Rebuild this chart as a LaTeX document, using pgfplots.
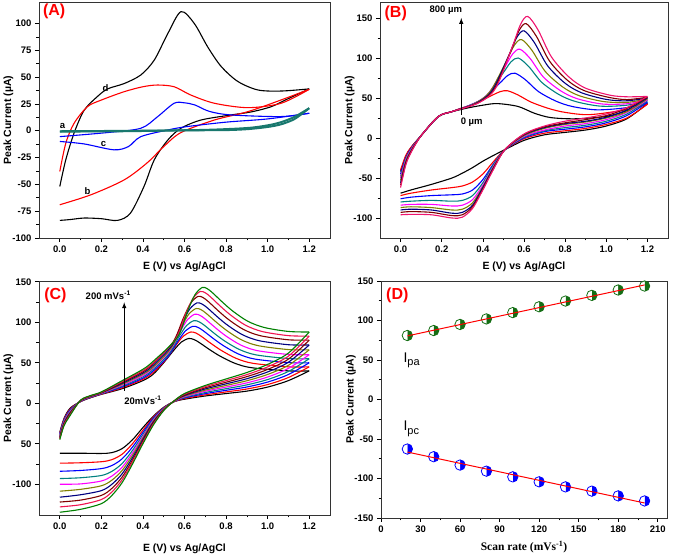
\documentclass[border=0pt]{standalone}
\usepackage{pgfplots}
\pgfplotsset{compat=1.18}
\usepackage{fontspec}
\setmainfont{Liberation Sans}
\newfontfamily\serifbf{Liberation Serif}
\usetikzlibrary{plotmarks}
\definecolor{cteal}{RGB}{0,128,128}
\definecolor{cteala}{RGB}{25,120,110}
\definecolor{cmag}{RGB}{255,0,255}
\definecolor{colive}{RGB}{128,128,0}
\definecolor{cnavy}{RGB}{0,0,128}
\definecolor{cmaroon}{RGB}{128,0,0}
\definecolor{cpink}{RGB}{240,20,110}
\definecolor{cpinkred}{RGB}{240,20,80}
\definecolor{cgreen}{RGB}{0,128,0}
\definecolor{cdgreen}{RGB}{20,110,20}
\newcommand\cv[3]{\addplot[#1] coordinates {#2};\addplot[#1] coordinates {#3};}
\pgfplotsset{
  panel/.style={scale only axis, clip mode=individual, tick align=outside, tick pos=left,
    axis line style={line width=0.9pt, black!80},
    major tick length=4pt, minor tick length=2.5pt,
    every tick/.style={black, line width=0.7pt},
    ticklabel style={font=\bfseries\fontsize{9.5}{10}\selectfont},
    /pgf/number format/assume math mode=true,
    label style={font=\bfseries\fontsize{10.5}{12}\selectfont},
    ylabel style={at={(axis description cs:-0.105,0.5)}, anchor=center},
    every axis plot/.append style={line width=1.1pt, smooth, mark=none},
  },
  cvaxis/.style={panel, xmin=-0.1, xmax=1.3, xtick={0,0.2,0.4,0.6,0.8,1.0,1.2},
    minor x tick num=1, minor y tick num=1,
    x tick label style={/pgf/number format/fixed, /pgf/number format/fixed zerofill, /pgf/number format/precision=1},
    xlabel={E (V) vs Ag/AgCl}, ylabel={Peak Current (\textmu A)}},
}
\tikzset{
  plab/.style={anchor=north west, text=red, font=\bfseries\fontsize{16}{18}\selectfont, inner sep=1pt},
  ann/.style={font=\bfseries\fontsize{9.5}{11}\selectfont, inner sep=1pt},
}
\begin{document}
\begin{tikzpicture}
\useasboundingbox (0,0) rectangle (675pt,557pt);
% ---------------- (A)
\begin{axis}[cvaxis, at={(39pt,319pt)}, anchor=south west, width=291pt, height=236pt,
  ymin=-100, ymax=120, ytick={-100,-75,-50,-25,0,25,50,75,100},
  xlabel style={at={(axis description cs:0.5,-0.12)}, anchor=center}]
\cv{black}{(0,-52) (0.029,-27) (0.069,-2) (0.117,19) (0.18,31.7) (0.23,39) (0.31,44) (0.39,52) (0.455,66) (0.52,90.7) (0.583,111) (0.647,100) (0.712,78) (0.776,60) (0.856,46) (0.953,38) (1.065,37) (1.2,39)}
{(1.2,39) (1.1,30) (1.017,22.4) (0.92,17.5) (0.824,14.7) (0.68,10) (0.583,2.3) (0.52,-8.6) (0.455,-27) (0.405,-52) (0.34,-76.8) (0.278,-83.6) (0.2,-82) (0.117,-81.4) (0.05,-82.8) (0,-83.6)}
\cv{red}{(0,-38) (0.029,-11.6) (0.069,7) (0.133,22.4) (0.2,28.6) (0.31,36.4) (0.4,41) (0.47,42.6) (0.55,41) (0.63,33.3) (0.744,25.6) (0.905,21.5) (1.065,25.6) (1.2,38.6)}
{(1.2,38.6) (1.065,28.7) (0.905,17.8) (0.744,10) (0.583,-1.7) (0.5,-14.8) (0.42,-30) (0.31,-45.8) (0.15,-59.7) (0,-69)}
\cv{blue}{(0,-5.5) (0.23,-1.7) (0.39,2.3) (0.47,13) (0.55,25.6) (0.6,26) (0.65,24) (0.72,18) (0.824,14.7) (1.065,13.2) (1.2,16.3)}
{(1.2,16.3) (1.0,11) (0.8,8) (0.61,3.8) (0.52,0.7) (0.39,-5.5) (0.33,-14.8) (0.26,-17.8) (0.117,-12.3) (0,-10)}
\cv{cteala, line width=2pt}{(0,-0.8) (0.3,-0.5) (0.583,0.3) (0.8,0.6) (0.905,1.5) (1.0,3.5) (1.065,6) (1.13,11) (1.2,21)}
{(1.2,21) (1.13,13) (1.065,8) (1.0,5) (0.9,2.5) (0.7,0.8) (0.4,0) (0,-0.5)}
\node[ann] at (axis cs:0.013,4.5) {a};
\node[ann] at (axis cs:0.133,-56.7) {b};
\node[ann] at (axis cs:0.21,-12.3) {c};
\node[ann] at (axis cs:0.22,39.5) {d};
\node[plab] at (rel axis cs:0.01,0.995) {(A)};
\end{axis}
% ---------------- (B)
\begin{axis}[cvaxis, at={(380pt,319pt)}, anchor=south west, width=288pt, height=236pt,
  ymin=-125, ymax=170, ytick={-100,-50,0,50,100,150},
  xlabel style={at={(axis description cs:0.5,-0.12)}, anchor=center}]
\cv{black}{(0,-42) (0.025,-23) (0.05,-12) (0.1,3) (0.185,27) (0.3,36) (0.4,41) (0.47,43) (0.57,39.5) (0.65,31) (0.73,25.5) (0.85,24) (1.0,27) (1.1,34) (1.2,43)}
{(1.2,43) (1.1,24) (1.0,15) (0.9,10) (0.8,7) (0.7,4) (0.6,-3) (0.507,-14.6) (0.45,-22) (0.4,-29) (0.35,-37) (0.3,-44) (0.25,-50) (0.15,-58) (0.05,-65) (0,-69)}
\cv{red}{(0,-40) (0.025,-22) (0.05,-12) (0.1,3) (0.185,27) (0.25,33) (0.285,36.5) (0.365,43.4) (0.445,53.4) (0.485,58) (0.52,59) (0.57,53.9) (0.635,44.8) (0.72,36.9) (0.8,32) (0.92,29.2) (1.1,35.5) (1.2,42.2)}
{(1.2,42.2) (1.1,25) (1.0,17) (0.9,12) (0.8,9) (0.7,6) (0.6,-1) (0.507,-14.6) (0.45,-30) (0.4,-45) (0.35,-55) (0.3,-60) (0.25,-62) (0.15,-65) (0.05,-69) (0,-72)}
\cv{blue}{(0,-45) (0.025,-25) (0.05,-13.5) (0.1,3) (0.185,27) (0.25,33) (0.321,39.4) (0.401,49.2) (0.481,68.2) (0.521,78.2) (0.556,81) (0.606,73) (0.671,57.9) (0.756,46) (0.836,39.3) (0.956,35.2) (1.1,38) (1.2,44.6)}
{(1.2,44.6) (1.1,28) (1.0,19) (0.9,14) (0.8,11) (0.7,8) (0.6,0) (0.507,-14.6) (0.45,-33) (0.4,-52) (0.35,-65) (0.3,-70) (0.25,-71) (0.15,-72) (0.05,-74) (0,-76)}
\cv{cteal}{(0,-48) (0.025,-26.4) (0.05,-14.4) (0.1,3) (0.185,27) (0.25,33) (0.337,40.7) (0.417,52.8) (0.497,80.7) (0.537,95.2) (0.572,100) (0.622,89.6) (0.687,69.4) (0.772,54) (0.852,45.5) (0.972,39.8) (1.1,41) (1.2,46.6)}
{(1.2,46.6) (1.1,30) (1.0,21) (0.9,16) (0.8,13) (0.7,9) (0.6,1) (0.507,-14.6) (0.45,-34) (0.4,-56) (0.35,-72) (0.3,-78) (0.25,-79) (0.15,-78) (0.05,-79) (0,-80)}
\cv{cmag}{(0,-50) (0.025,-27.5) (0.05,-15) (0.1,3) (0.185,27) (0.25,33) (0.345,41.5) (0.425,54.9) (0.505,87.8) (0.545,105.1) (0.58,111) (0.63,99.3) (0.695,76) (0.78,58.7) (0.86,49) (0.98,42.5) (1.1,42.8) (1.2,47.7)}
{(1.2,47.7) (1.1,32) (1.0,23) (0.9,18) (0.8,15) (0.7,10) (0.6,2) (0.507,-14.6) (0.45,-36) (0.4,-59) (0.35,-77) (0.3,-84) (0.25,-85) (0.15,-83) (0.05,-83) (0,-84)}
\cv{colive}{(0,-53) (0.025,-29) (0.05,-16) (0.1,3) (0.185,27) (0.25,33) (0.353,42.2) (0.433,57.2) (0.513,95.5) (0.553,115.9) (0.588,123) (0.638,109.8) (0.703,83.3) (0.788,63.8) (0.868,52.9) (0.988,45.5) (1.1,44.5) (1.2,48.9)}
{(1.2,48.9) (1.1,33) (1.0,25) (0.9,20) (0.8,17) (0.7,12) (0.6,3) (0.507,-14.6) (0.45,-37) (0.4,-61) (0.35,-81) (0.3,-89) (0.25,-90) (0.15,-87) (0.05,-86) (0,-87)}
\cv{cnavy}{(0,-56) (0.025,-31) (0.05,-17) (0.1,3) (0.185,27) (0.25,33) (0.365,43) (0.445,59.3) (0.525,102.5) (0.565,125.7) (0.6,134) (0.65,119.4) (0.715,90.2) (0.8,68.4) (0.88,56.5) (1.0,48.2) (1.1,46.5) (1.2,50.1)}
{(1.2,50.1) (1.1,35) (1.0,26) (0.9,21) (0.8,18) (0.7,13) (0.6,4) (0.507,-14.6) (0.45,-38) (0.4,-62) (0.35,-84) (0.3,-93) (0.25,-94) (0.15,-90) (0.05,-89) (0,-90)}
\cv{cmaroon}{(0,-59) (0.025,-32.5) (0.05,-17.7) (0.1,3) (0.185,27) (0.25,33) (0.375,43.7) (0.455,61) (0.535,108.1) (0.575,133.8) (0.61,143) (0.66,127.2) (0.725,95.8) (0.81,72.4) (0.89,59.5) (1.01,50.9) (1.1,48) (1.2,51)}
{(1.2,51) (1.1,37) (1.0,28) (0.9,23) (0.8,19) (0.7,14) (0.6,4.5) (0.507,-14.6) (0.45,-39) (0.4,-64) (0.35,-86) (0.3,-96) (0.25,-97) (0.15,-93) (0.05,-92) (0,-93)}
\cv{cpink}{(0,-62) (0.025,-34) (0.05,-18.6) (0.1,3) (0.185,27) (0.25,33) (0.383,44.3) (0.463,62.7) (0.543,113.9) (0.583,141.9) (0.618,152) (0.668,135.2) (0.733,101.5) (0.818,76.4) (0.898,62.4) (1.018,53.5) (1.1,51.5) (1.2,52)}
{(1.2,52) (1.1,38) (1.0,30) (0.9,25) (0.8,21) (0.7,15) (0.6,5) (0.507,-14.6) (0.45,-40) (0.4,-65) (0.35,-88) (0.3,-99) (0.25,-100) (0.15,-96) (0.05,-95.5) (0,-96)}
\draw[-latex, line width=1pt] (axis cs:0.295,29) -- (axis cs:0.295,150);
\node[ann] at (axis cs:0.22,159.5) {800 \textmu m};
\node[ann] at (axis cs:0.346,19.5) {0 \textmu m};
\node[plab] at (rel axis cs:0.012,0.99) {(B)};
\end{axis}
% ---------------- (C)
\begin{axis}[cvaxis, at={(39pt,42pt)}, anchor=south west, width=291pt, height=234pt,
  ymin=-138, ymax=151, ytick={-100,-50,0,50,100,150}, yticklabels={-100,50,0,50,100,150},
  xlabel style={at={(axis description cs:0.5,-0.145)}, anchor=center}]
\cv{black}{(0,-36) (0.02,-19) (0.05,-6) (0.1,2) (0.15,7) (0.2,11) (0.3,18) (0.4,28) (0.45,36) (0.5,50.1) (0.55,65.9) (0.585,75.6) (0.62,80) (0.645,78.8) (0.67,75.2) (0.72,66.4) (0.77,58.4) (0.84,49.6) (0.92,44) (1.1,40) (1.2,40)}
{(1.2,40) (1.1,28) (1.0,20) (0.9,15) (0.8,12) (0.7,9) (0.6,5) (0.55,2) (0.5,-5) (0.45,-16) (0.4,-30) (0.35,-45) (0.3,-56) (0.25,-61) (0.2,-62) (0.1,-61.7) (0,-61.7)}
\cv{red}{(0,-37) (0.02,-20) (0.05,-7) (0.1,2.2) (0.15,7.3) (0.2,11.3) (0.3,19.1) (0.4,29.6) (0.45,38) (0.51,54) (0.56,72) (0.595,83) (0.63,88) (0.655,86.7) (0.68,82.8) (0.73,73.4) (0.78,64.8) (0.85,55.3) (0.93,49.3) (1.1,45) (1.2,45)}
{(1.2,45) (1.1,31.8) (1.0,23.1) (0.9,17.6) (0.8,14) (0.7,10.4) (0.6,5.8) (0.55,2) (0.5,-5.4) (0.45,-17.2) (0.4,-33.3) (0.35,-49.9) (0.3,-62.9) (0.25,-69.7) (0.2,-72.2) (0.1,-73.5) (0,-74)}
\cv{blue}{(0,-38) (0.02,-21) (0.05,-8) (0.1,2.4) (0.15,7.6) (0.2,11.7) (0.3,20.2) (0.4,31.1) (0.45,40) (0.52,57.6) (0.57,77.4) (0.605,89.5) (0.64,95) (0.665,93.7) (0.69,89.6) (0.74,79.7) (0.79,70.7) (0.86,60.8) (0.94,54.5) (1.1,50.2) (1.2,50)}
{(1.2,50) (1.1,35.5) (1.0,26.2) (0.9,20.1) (0.8,16) (0.7,11.9) (0.6,6.6) (0.55,2.2) (0.5,-5.9) (0.45,-18.4) (0.4,-36) (0.35,-54) (0.3,-68.6) (0.25,-77) (0.2,-80.7) (0.1,-83) (0,-84)}
\cv{cteal}{(0,-39) (0.02,-22) (0.05,-9) (0.1,2.6) (0.15,7.9) (0.2,12) (0.3,21.3) (0.4,32.7) (0.45,42) (0.525,61.2) (0.575,82.8) (0.61,96) (0.645,102) (0.67,100.6) (0.695,96.4) (0.745,86) (0.795,76.6) (0.865,66.3) (0.945,59.7) (1.1,55.2) (1.2,55)}
{(1.2,55) (1.1,39.3) (1.0,29.3) (0.9,22.7) (0.8,18) (0.7,13.3) (0.6,7.3) (0.55,2.3) (0.5,-6.3) (0.45,-19.7) (0.4,-38.8) (0.35,-58.1) (0.3,-74.4) (0.25,-84.2) (0.2,-89.2) (0.1,-92) (0,-93)}
\cv{cmag}{(0,-40) (0.02,-23) (0.05,-10) (0.1,2.8) (0.15,8.2) (0.2,12.3) (0.3,22.4) (0.4,34.2) (0.45,44) (0.53,65.1) (0.58,88.9) (0.615,103.4) (0.65,110) (0.675,108.5) (0.7,104) (0.75,93) (0.8,83) (0.87,72) (0.95,65) (1.1,60.3) (1.2,60)}
{(1.2,60) (1.1,43.1) (1.0,32.4) (0.9,25.2) (0.8,20) (0.7,14.8) (0.6,8.1) (0.55,2.4) (0.5,-6.8) (0.45,-20.9) (0.4,-41) (0.35,-61.4) (0.3,-79) (0.25,-90) (0.2,-96) (0.1,-99.6) (0,-100)}
\cv{colive}{(0,-41) (0.02,-24) (0.05,-11) (0.1,3) (0.15,8.5) (0.2,12.7) (0.3,23.5) (0.4,35.8) (0.45,45) (0.535,68) (0.585,94) (0.62,109.8) (0.655,117) (0.68,115.5) (0.705,110.9) (0.755,99.7) (0.805,89.5) (0.875,78.2) (0.955,71.1) (1.1,66.3) (1.2,66)}
{(1.2,66) (1.1,46.9) (1.0,35.6) (0.9,27.8) (0.8,22) (0.7,16.2) (0.6,8.9) (0.55,2.5) (0.5,-7.2) (0.45,-22.1) (0.4,-42.9) (0.35,-64.3) (0.3,-83) (0.25,-95.1) (0.2,-101.9) (0.1,-106.3) (0,-108.6)}
\cv{cnavy}{(0,-42) (0.02,-25) (0.05,-12) (0.1,3.2) (0.15,8.8) (0.2,13) (0.3,24.6) (0.4,37.3) (0.45,47) (0.54,71.6) (0.59,99.4) (0.625,116.3) (0.66,124) (0.685,122.4) (0.71,117.8) (0.76,106.3) (0.81,95.9) (0.88,84.5) (0.96,77.2) (1.1,72.3) (1.2,72)}
{(1.2,72) (1.1,50.7) (1.0,38.7) (0.9,30.3) (0.8,24) (0.7,17.7) (0.6,9.7) (0.55,2.7) (0.5,-7.7) (0.45,-23.3) (0.4,-44.8) (0.35,-67.2) (0.3,-87.1) (0.25,-100.2) (0.2,-107.9) (0.1,-113) (0,-116)}
\cv{cmaroon}{(0,-43) (0.02,-26) (0.05,-13) (0.1,3.4) (0.15,9.1) (0.2,13.3) (0.3,25.7) (0.4,38.9) (0.45,49) (0.545,75.6) (0.595,105.4) (0.63,123.7) (0.665,132) (0.69,130.4) (0.715,125.5) (0.765,113.6) (0.815,102.8) (0.885,91) (0.965,83.4) (1.1,78.4) (1.2,78)}
{(1.2,78) (1.1,54.5) (1.0,41.8) (0.9,32.9) (0.8,26) (0.7,19.1) (0.6,10.4) (0.55,2.8) (0.5,-8.1) (0.45,-24.6) (0.4,-46.7) (0.35,-70.1) (0.3,-91.1) (0.25,-105.3) (0.2,-113.8) (0.1,-119.6) (0,-122)}
\cv{cpinkred}{(0,-44) (0.02,-27) (0.05,-14) (0.1,3.6) (0.15,9.4) (0.2,13.6) (0.3,26.8) (0.4,40.4) (0.45,50) (0.555,78.2) (0.605,109.8) (0.64,129.2) (0.675,138) (0.7,136.4) (0.725,131.4) (0.775,119.3) (0.825,108.3) (0.895,96.2) (0.975,88.5) (1.1,83.5) (1.2,83)}
{(1.2,83) (1.1,58.2) (1.0,44.9) (0.9,35.4) (0.8,28) (0.7,20.6) (0.6,11.2) (0.55,2.9) (0.5,-8.6) (0.45,-25.8) (0.4,-48.4) (0.35,-72.5) (0.3,-94.6) (0.25,-109.7) (0.2,-118.9) (0.1,-125.3) (0,-128)}
\cv{cgreen}{(0,-45) (0.02,-28) (0.05,-15) (0.1,3.8) (0.15,9.7) (0.2,14) (0.3,27.9) (0.4,42) (0.45,52) (0.565,81.1) (0.615,113.9) (0.65,133.9) (0.685,143) (0.71,141.4) (0.735,136.4) (0.785,124.3) (0.835,113.3) (0.905,101.2) (0.985,93.5) (1.1,88.7) (1.2,88)}
{(1.2,88) (1.1,62) (1.0,48) (0.9,38) (0.8,30) (0.7,22) (0.6,12) (0.55,3) (0.5,-9) (0.45,-27) (0.4,-50) (0.35,-75) (0.3,-98) (0.25,-114) (0.2,-124) (0.1,-131) (0,-134.6)}
\draw[-latex, line width=1pt] (axis cs:0.31,15.7) -- (axis cs:0.31,124.7);
\node[ann] at (axis cs:0.233,133) {200 mVs\textsuperscript{-1}};
\node[ann] at (axis cs:0.40,3.3) {20mVs\textsuperscript{-1}};
\node[plab] at (rel axis cs:0.014,0.975) {(C)};
\end{axis}
% ---------------- (D)
\begin{axis}[panel, at={(381pt,39pt)}, anchor=south west, width=286pt, height=237pt,
  xmin=0, xmax=217, ymin=-150, ymax=150, xtick={0,30,60,90,120,150,180,210},
  ytick={-150,-100,-50,0,50,100,150}, minor x tick num=1, minor y tick num=1,
  xlabel={\serifbf\bfseries\fontsize{11.5}{13}\selectfont Scan rate (mVs\textsuperscript{-1})},
  ylabel={Peak Current (\textmu A)},
  xlabel style={at={(axis description cs:0.5,-0.122)}, anchor=center}]
\addplot[only marks, mark=halfcircle*, mark size=5.2pt, mark options={rotate=-90, fill=cdgreen, draw=cdgreen, line width=0.8pt}]
  coordinates {(20,81) (40,87.3) (60,95) (80,102) (100,110) (120,117.4) (140,124.6) (160,131.8) (180,138.6) (200,143.6)};
\addplot[only marks, mark=halfcircle*, mark size=5.2pt, mark options={rotate=-90, fill=blue, draw=blue, line width=0.8pt}]
  coordinates {(20,-62.7) (40,-72.4) (60,-83) (80,-90.7) (100,-97.9) (120,-104.2) (140,-110.6) (160,-116) (180,-122) (200,-128.4)};
\addplot[red, line width=1pt, sharp plot] coordinates {(20,80.5) (200,145)};
\addplot[red, line width=1pt, sharp plot] coordinates {(20,-66.5) (200,-131)};
\node[anchor=west, font=\fontsize{14}{16}\selectfont, inner sep=0pt] at (axis cs:17,50) {I\raisebox{-0.45ex}{\fontsize{11}{12}\selectfont pa}};
\node[anchor=west, font=\fontsize{14}{16}\selectfont, inner sep=0pt] at (axis cs:17,-37) {I\raisebox{-0.45ex}{\fontsize{11}{12}\selectfont pc}};
\node[plab] at (rel axis cs:0.014,0.975) {(D)};
\end{axis}
\end{tikzpicture}
\end{document}
